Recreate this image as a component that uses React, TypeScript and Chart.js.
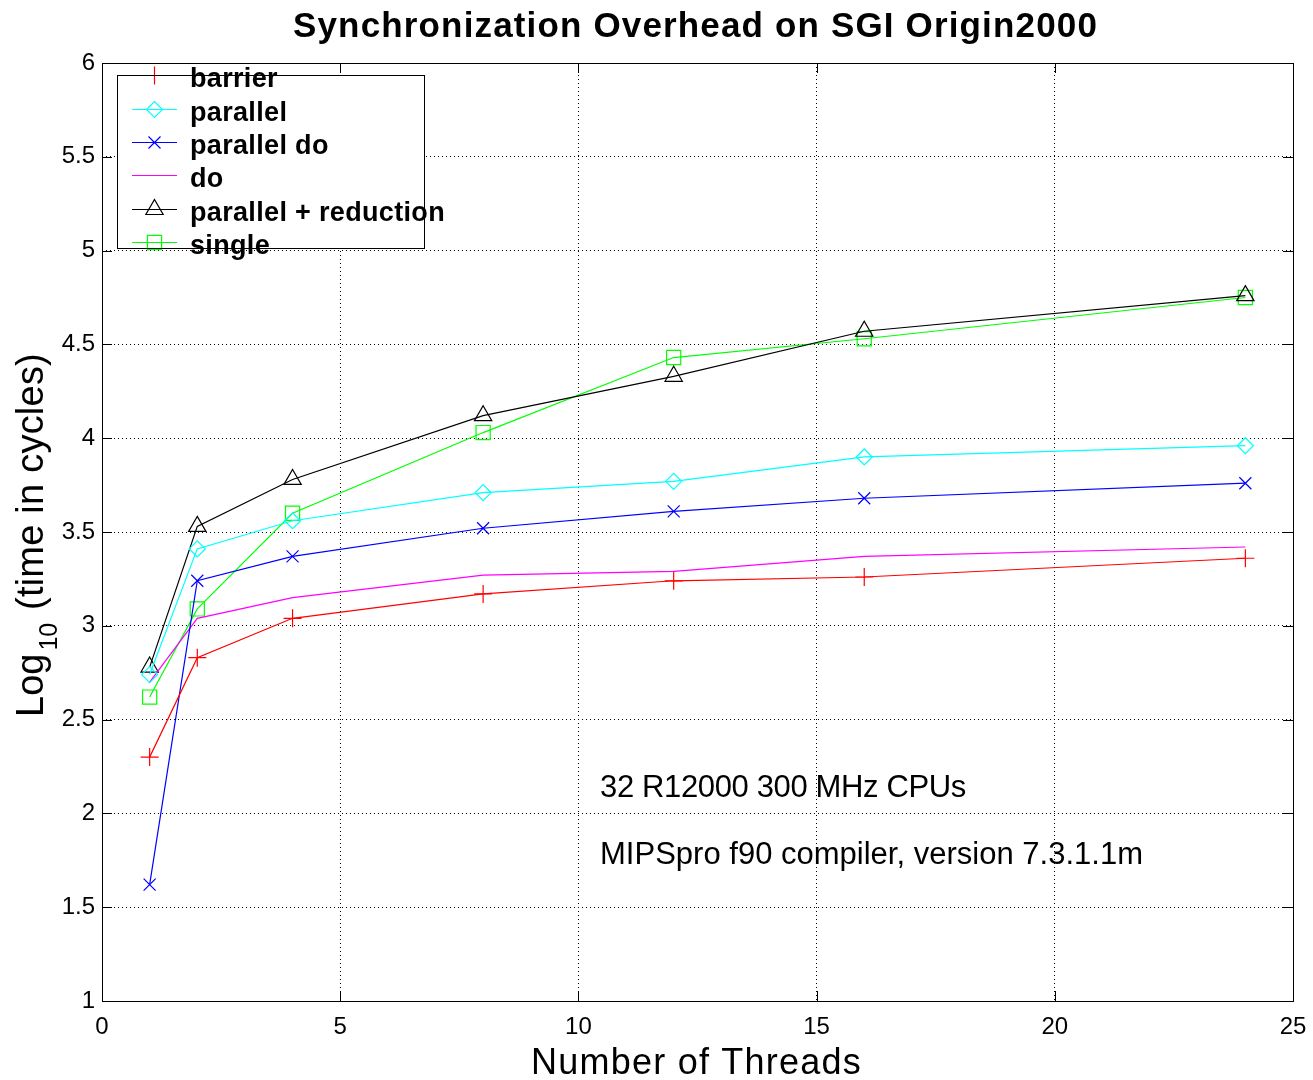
import React, { useEffect, useRef } from "react";
import { Chart, registerables } from "chart.js";

Chart.register(...registerables);

// ---------- data ----------
const threads = [1, 2, 4, 8, 12, 16, 24];
const barrier = [2.3, 2.83, 3.04, 3.17, 3.24, 3.26, 3.36];
const parallel = [2.74, 3.41, 3.56, 3.71, 3.77, 3.9, 3.96];
const parallelDo = [1.62, 3.24, 3.37, 3.52, 3.61, 3.68, 3.76];
const doLoop = [2.7, 3.04, 3.15, 3.27, 3.29, 3.37, 3.42];
const parallelReduction = [2.78, 3.53, 3.78, 4.12, 4.33, 4.57, 4.76];
const single = [2.62, 3.09, 3.6, 4.03, 4.43, 4.53, 4.75];

const seriesLabels = ["barrier", "parallel", "parallel do", "do", "parallel + reduction", "single"];
const seriesValues = [barrier, parallel, parallelDo, doLoop, parallelReduction, single];
const seriesColors = ["#ff0000", "#00ffff", "#0000ff", "#ff00ff", "#000000", "#00ff00"];
const seriesMarkers: (string | false)[] = ["cross", "rectRot", "crossRot", false, "triangle", "rect"];
const markerRadius = [9, 8, 8.5, 0, 10, 10];

const xTicks = [0, 5, 10, 15, 20, 25];
const yTicks = [1, 1.5, 2, 2.5, 3, 3.5, 4, 4.5, 5, 5.5, 6];

const chartTitle = "Synchronization Overhead on SGI Origin2000";
const xTitle = "Number of Threads";
const yTitleMain = "Log";
const yTitleSub = "10";
const yTitleRest = " (time in cycles)";
const notes = ["32 R12000 300 MHz CPUs", "MIPSpro f90 compiler, version 7.3.1.1m"];

const FONT = '"Liberation Sans", Arial, Helvetica, sans-serif';

function fillSpaced(ctx: CanvasRenderingContext2D, text: string, x: number, y: number, target: number, font: string) {
  ctx.save();
  ctx.font = font;
  const anyCtx = ctx as any;
  anyCtx.letterSpacing = "0px";
  const w = ctx.measureText(text).width;
  if ("letterSpacing" in anyCtx) {
    const sp = (target - w) / text.length;
    anyCtx.letterSpacing = sp + "px";
    ctx.fillText(text, x, y);
  } else {
    ctx.translate(x, y);
    ctx.scale(target / w, 1);
    ctx.fillText(text, 0, 0);
  }
  ctx.restore();
}

function drawMarker(ctx: CanvasRenderingContext2D, style: string | false, x: number, y: number, r: number) {
  if (!style) return;
  ctx.beginPath();
  if (style === "cross") {
    ctx.moveTo(x - r, y); ctx.lineTo(x + r, y);
    ctx.moveTo(x, y - r); ctx.lineTo(x, y + r);
  } else if (style === "crossRot") {
    const a = r * Math.SQRT1_2;
    ctx.moveTo(x - a, y - a); ctx.lineTo(x + a, y + a);
    ctx.moveTo(x - a, y + a); ctx.lineTo(x + a, y - a);
  } else if (style === "rectRot") {
    ctx.moveTo(x - r, y); ctx.lineTo(x, y - r); ctx.lineTo(x + r, y); ctx.lineTo(x, y + r); ctx.closePath();
  } else if (style === "rect") {
    const s = r * Math.SQRT1_2;
    ctx.rect(x - s, y - s, 2 * s, 2 * s);
  } else if (style === "triangle") {
    for (let i = 0; i < 3; i++) {
      const ang = (i * 2 * Math.PI) / 3;
      const px = x + Math.sin(ang) * r;
      const py = y - Math.cos(ang) * r;
      if (i === 0) ctx.moveTo(px, py); else ctx.lineTo(px, py);
    }
    ctx.closePath();
  }
  ctx.stroke();
}

const decorPlugin = {
  id: "decor",
  afterDraw(chart: any) {
    const ctx: CanvasRenderingContext2D = chart.ctx;
    const { left, right, top, bottom } = chart.chartArea;
    const xs = chart.scales.x;
    const ys = chart.scales.y;
    ctx.save();
    ctx.strokeStyle = "#000";
    ctx.lineWidth = 1;
    // inward ticks
    const tl = 10;
    ctx.beginPath();
    xTicks.forEach((v) => {
      const px = Math.round(xs.getPixelForValue(v)) + 0.5;
      ctx.moveTo(px, bottom); ctx.lineTo(px, bottom - tl);
      ctx.moveTo(px, top); ctx.lineTo(px, top + tl);
    });
    yTicks.forEach((v) => {
      const py = Math.round(ys.getPixelForValue(v)) + 0.5;
      ctx.moveTo(left, py); ctx.lineTo(left + tl, py);
      ctx.moveTo(right, py); ctx.lineTo(right - tl, py);
    });
    ctx.stroke();
    // frame
    ctx.strokeRect(Math.round(left) + 0.5, Math.round(top) + 0.5, Math.round(right - left), Math.round(bottom - top));

    // legend
    const lx = 117, ly = 75, lw = 307, lh = 173;
    ctx.fillStyle = "#fff";
    ctx.fillRect(lx, ly, lw, lh);
    const rowY = [75, 109, 142, 175, 209, 242];
    seriesLabels.forEach((lab, i) => {
      const cy = rowY[i];
      ctx.strokeStyle = seriesColors[i];
      ctx.lineWidth = 1;
      ctx.beginPath();
      ctx.moveTo(132, cy + 0.5); ctx.lineTo(177, cy + 0.5);
      ctx.stroke();
      ctx.lineWidth = 1.2;
      drawMarker(ctx, seriesMarkers[i], 154.5, cy + 0.5, markerRadius[i]);
    });
    ctx.lineWidth = 1;
    ctx.strokeStyle = "#000";
    ctx.strokeRect(lx + 0.5, ly + 0.5, lw, lh);
    ctx.fillStyle = "#000";
    ctx.textBaseline = "alphabetic";
    ctx.textAlign = "left";
    const legFont = `bold 27px ${FONT}`;
    ctx.font = legFont;
    (ctx as any).letterSpacing = "0px";
    const longW = ctx.measureText(seriesLabels[4]).width;
    const targetLong = 255;
    seriesLabels.forEach((lab, i) => {
      ctx.font = legFont;
      (ctx as any).letterSpacing = "0px";
      const w = ctx.measureText(lab).width;
      const t = w + ((targetLong - longW) / seriesLabels[4].length) * lab.length;
      fillSpaced(ctx, lab, 190, rowY[i] + 12, t, legFont);
    });

    // title
    fillSpaced(ctx, chartTitle, 293, 37, 805, `bold 35px ${FONT}`);
    // x title
    fillSpaced(ctx, xTitle, 531, 1074, 331, `36px ${FONT}`);
    // notes
    fillSpaced(ctx, notes[0], 600, 797, 366, `31px ${FONT}`);
    fillSpaced(ctx, notes[1], 600, 864, 543, `31px ${FONT}`);

    // y title (rotated, with subscript)
    ctx.save();
    ctx.translate(43, 717);
    ctx.rotate(-Math.PI / 2);
    ctx.font = `38px ${FONT}`;
    (ctx as any).letterSpacing = "0px";
    ctx.fillText(yTitleMain, 0, 0);
    const wMain = ctx.measureText(yTitleMain).width;
    ctx.font = `25px ${FONT}`;
    ctx.fillText(yTitleSub, wMain + 3, 14);
    const wSub = ctx.measureText(yTitleSub).width;
    const startRest = wMain + 3 + wSub + 2;
    fillSpaced(ctx, yTitleRest, startRest, 0, 717 - 353 - startRest, `38px ${FONT}`);
    ctx.restore();

    ctx.restore();
  },
};

export default function App() {
  const ref = useRef<HTMLCanvasElement | null>(null);
  useEffect(() => {
    if (!ref.current) return;
    const datasets = seriesLabels.map((lab, i) => ({
      label: lab,
      data: threads.map((t, j) => ({ x: t, y: seriesValues[i][j] })),
      borderColor: seriesColors[i],
      backgroundColor: "rgba(0,0,0,0)",
      borderWidth: 1.2,
      pointStyle: seriesMarkers[i] as any,
      pointRadius: markerRadius[i],
      pointBorderWidth: 1.2,
      pointBorderColor: seriesColors[i],
      pointBackgroundColor: "rgba(0,0,0,0)",
      tension: 0,
      fill: false,
    }));
    const chart = new Chart(ref.current, {
      type: "line",
      data: { datasets },
      plugins: [decorPlugin],
      options: {
        animation: false,
        responsive: false,
        devicePixelRatio: 1,
        layout: { padding: { left: 0, right: 20, top: 63, bottom: 0 } },
        plugins: { legend: { display: false }, title: { display: false }, tooltip: { enabled: false } },
        scales: {
          x: {
            type: "linear",
            min: 0,
            max: 25,
            afterFit: (s: any) => { s.height = 79; s.paddingRight = 0; s.paddingLeft = 0; },
            afterBuildTicks: (s: any) => { s.ticks = xTicks.map((v) => ({ value: v })); },
            ticks: { color: "#000", font: { family: FONT, size: 24 }, padding: 12, maxRotation: 0, callback: (v: any) => String(v) },
            grid: { color: "#000", lineWidth: 1, drawTicks: false },
            border: { display: false, dash: [1, 3] },
          },
          y: {
            type: "linear",
            min: 1,
            max: 6,
            afterFit: (s: any) => { s.width = 102; s.paddingTop = 0; s.paddingBottom = 0; },
            afterBuildTicks: (s: any) => { s.ticks = yTicks.map((v) => ({ value: v })); },
            ticks: { color: "#000", font: { family: FONT, size: 24 }, padding: 7, callback: (v: any) => String(v) },
            grid: { color: "#000", lineWidth: 1, drawTicks: false },
            border: { display: false, dash: [1, 3] },
          },
        },
      },
    });
    return () => chart.destroy();
  }, []);
  return (
    <div style={{ position: "absolute", left: 0, top: 0, width: 1313, height: 1080, background: "#fff" }}>
      <canvas ref={ref} width={1313} height={1080} style={{ display: "block" }} />
    </div>
  );
}
